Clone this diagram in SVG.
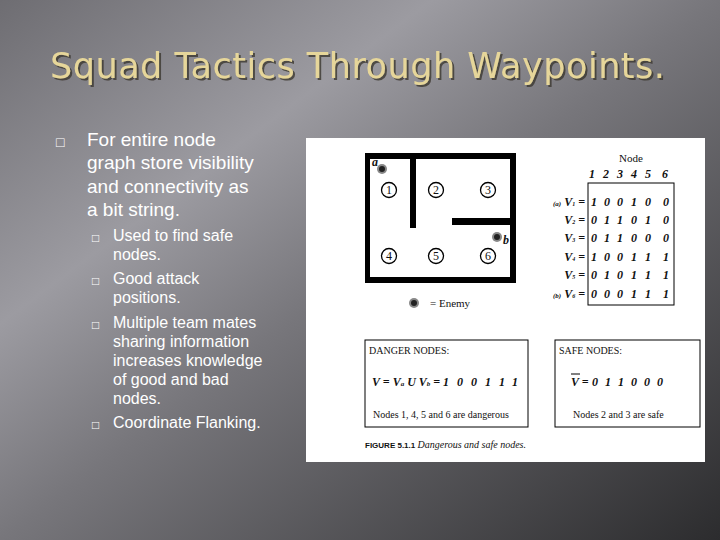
<svg xmlns="http://www.w3.org/2000/svg" width="720" height="540" viewBox="0 0 720 540">
<defs>
<linearGradient id="bg" x1="0" y1="0" x2="1" y2="1">
<stop offset="0" stop-color="#6e6d72"/><stop offset="0.3" stop-color="#9c9ba1"/><stop offset="0.5" stop-color="#77767b"/><stop offset="1" stop-color="#2c2c2e"/>
</linearGradient>
<filter id="sh" x="-5%" y="-20%" width="110%" height="150%"><feDropShadow dx="2" dy="2" stdDeviation="0.5" flood-color="#3a3730" flood-opacity="0.8"/></filter>
<style>
.t{font-family:"Liberation Sans",Arial,sans-serif;fill:#fff}
.s{font-family:"Liberation Serif","Times New Roman",serif;fill:#111}
.i{font-family:"Liberation Serif",serif;font-style:italic;font-weight:bold;fill:#111;font-size:12px}
.w{fill:#000}
.n{fill:#fff;stroke:#000;stroke-width:1.3}
</style>
</defs>
<rect width="720" height="540" fill="url(#bg)"/>
<text x="50" y="78" font-family="DejaVu Sans,sans-serif" font-size="35" fill="#e6d69a" textLength="615" filter="url(#sh)">Squad Tactics Through Waypoints.</text>
<g class="t" font-size="19">
<text x="56" y="147" font-size="14">□</text>
<text x="87" y="146">For entire node</text>
<text x="87" y="169">graph store visibility</text>
<text x="87" y="193">and connectivity as</text>
<text x="87" y="216">a bit string.</text>
</g>
<g class="t" font-size="16">
<text x="92" y="242" font-size="12">□</text><text x="113" y="241">Used to find safe</text>
<text x="113" y="260">nodes.</text>
<text x="92" y="285" font-size="12">□</text><text x="113" y="284">Good attack</text>
<text x="113" y="303">positions.</text>
<text x="92" y="329" font-size="12">□</text><text x="113" y="328">Multiple team mates</text>
<text x="113" y="347">sharing information</text>
<text x="113" y="366">increases knowledge</text>
<text x="113" y="385">of good and bad</text>
<text x="113" y="404">nodes.</text>
<text x="92" y="429" font-size="12">□</text><text x="113" y="428">Coordinate Flanking.</text>
</g>
<rect x="306" y="138" width="399" height="324" fill="#fff"/>
<g id="maze">
<rect class="w" x="365" y="153" width="151" height="6"/>
<rect class="w" x="365" y="277" width="151" height="6"/>
<rect class="w" x="365" y="153" width="5" height="130"/>
<rect class="w" x="510" y="153" width="6" height="130"/>
<rect class="w" x="410" y="153" width="6" height="75"/>
<rect class="w" x="452" y="218" width="63" height="7"/>
</g>
<g id="nodes" class="s" font-size="12" text-anchor="middle">
<g id="n1"><circle class="n" cx="389" cy="190" r="7.5"/><text x="389" y="194">1</text></g>
<g id="n2"><circle class="n" cx="436" cy="190" r="7.5"/><text x="436" y="194">2</text></g>
<g id="n3"><circle class="n" cx="488" cy="190" r="7.5"/><text x="488" y="194">3</text></g>
<g id="n4"><circle class="n" cx="389" cy="256" r="7.5"/><text x="389" y="260">4</text></g>
<g id="n5"><circle class="n" cx="436" cy="256" r="7.5"/><text x="436" y="260">5</text></g>
<g id="n6"><circle class="n" cx="488" cy="256" r="7.5"/><text x="488" y="260">6</text></g>
</g>
<g id="enemies">
<circle cx="382" cy="169" r="5" fill="#888"/><circle cx="382" cy="169" r="3" fill="#222"/>
<text x="372" y="166" class="i" font-size="7">a</text>
<circle cx="497" cy="237" r="5" fill="#888"/><circle cx="497" cy="237" r="3" fill="#222"/>
<text x="503" y="244" class="i" font-size="7">b</text>
<circle cx="414" cy="303" r="5" fill="#888"/><circle cx="414" cy="303" r="3" fill="#222"/>
<text x="430" y="307" class="s" font-size="11">= Enemy</text>
</g>
<g id="matrix">
<text x="631" y="162" class="s" font-size="11" text-anchor="middle">Node</text>
<g class="i" text-anchor="middle">
<text x="592" y="178">1</text><text x="606" y="178">2</text><text x="620" y="178">3</text><text x="634" y="178">4</text><text x="648" y="178">5</text><text x="665" y="178">6</text>
</g>
<rect x="588" y="183" width="86" height="122" fill="none" stroke="#000" stroke-width="1"/>
<g class="i" font-size="10" text-anchor="end">
<text x="585" y="206"><tspan font-size="7">(a)</tspan> V<tspan font-size="6">1</tspan> =</text>
<text x="585" y="224">V<tspan font-size="6">2</tspan> =</text>
<text x="585" y="242">V<tspan font-size="6">3</tspan> =</text>
<text x="585" y="261">V<tspan font-size="6">4</tspan> =</text>
<text x="585" y="279">V<tspan font-size="6">5</tspan> =</text>
<text x="585" y="298"><tspan font-size="7">(b)</tspan> V<tspan font-size="6">6</tspan> =</text>
</g>
<g class="i" text-anchor="middle">
<text y="206"><tspan x="594">1</tspan><tspan x="607">0</tspan><tspan x="620">0</tspan><tspan x="634">1</tspan><tspan x="648">0</tspan><tspan x="666">0</tspan></text>
<text y="224"><tspan x="594">0</tspan><tspan x="607">1</tspan><tspan x="620">1</tspan><tspan x="634">0</tspan><tspan x="648">1</tspan><tspan x="666">0</tspan></text>
<text y="242"><tspan x="594">0</tspan><tspan x="607">1</tspan><tspan x="620">1</tspan><tspan x="634">0</tspan><tspan x="648">0</tspan><tspan x="666">0</tspan></text>
<text y="261"><tspan x="594">1</tspan><tspan x="607">0</tspan><tspan x="620">0</tspan><tspan x="634">1</tspan><tspan x="648">1</tspan><tspan x="666">1</tspan></text>
<text y="279"><tspan x="594">0</tspan><tspan x="607">1</tspan><tspan x="620">0</tspan><tspan x="634">1</tspan><tspan x="648">1</tspan><tspan x="666">1</tspan></text>
<text y="298"><tspan x="594">0</tspan><tspan x="607">0</tspan><tspan x="620">0</tspan><tspan x="634">1</tspan><tspan x="648">1</tspan><tspan x="666">1</tspan></text>
</g>
</g>
<g id="danger">
<rect x="365" y="340" width="163" height="87" fill="none" stroke="#000" stroke-width="1"/>
<text x="369" y="354" class="s" font-size="10">DANGER NODES:</text>
<text x="372" y="386" class="i" font-size="11">V = V<tspan font-size="7">a</tspan> U V<tspan font-size="7">b</tspan> =<tspan x="443">1</tspan><tspan x="457">0</tspan><tspan x="471">0</tspan><tspan x="485">1</tspan><tspan x="499">1</tspan><tspan x="512">1</tspan></text>
<text x="373" y="418" class="s" font-size="10">Nodes 1, 4, 5 and 6 are dangerous</text>
</g>
<g id="safe">
<rect x="555" y="340" width="145" height="87" fill="none" stroke="#000" stroke-width="1"/>
<text x="559" y="354" class="s" font-size="10">SAFE NODES:</text>
<line x1="571" y1="374" x2="580" y2="374" stroke="#000" stroke-width="1"/>
<text x="571" y="386" class="i">V =<tspan x="592">0</tspan><tspan x="605">1</tspan><tspan x="618">1</tspan><tspan x="631">0</tspan><tspan x="644">0</tspan><tspan x="657">0</tspan></text>
<text x="573" y="418" class="s" font-size="10">Nodes 2 and 3 are safe</text>
</g>
<text x="365" y="448" font-family="Liberation Sans,sans-serif" font-weight="bold" font-size="8" fill="#111">FIGURE 5.1.1 <tspan class="s" font-style="italic" font-weight="normal" font-size="10">Dangerous and safe nodes.</tspan></text>
</svg>
